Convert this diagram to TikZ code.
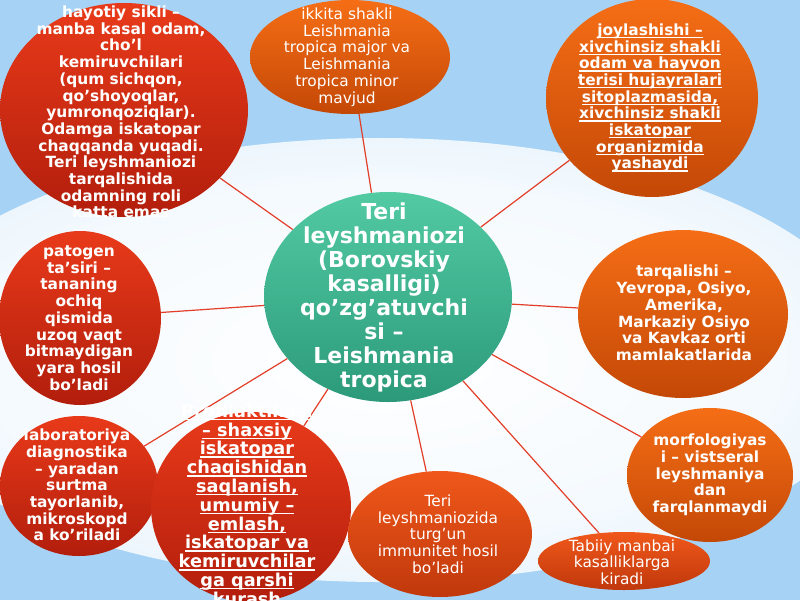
\documentclass[tikz,border=0pt]{standalone}
\usepackage{fontspec}
\setmainfont{DejaVu Sans}
\usetikzlibrary{shapes.geometric,shadings}
\definecolor{bgblue}{RGB}{166,211,245}
\colorlet{glowA}{white}
\colorlet{glowB}{white!88!bgblue}
\colorlet{glowC}{white!55!bgblue}
\definecolor{redtop}{RGB}{232,58,26}
\definecolor{redbot}{RGB}{178,30,12}
\definecolor{ortop}{RGB}{245,110,22}
\definecolor{orbot}{RGB}{196,72,6}
\definecolor{rotop}{RGB}{240,88,26}
\definecolor{robot}{RGB}{192,56,12}
\definecolor{tealtop}{RGB}{82,202,162}
\definecolor{tealbot}{RGB}{44,154,122}
\definecolor{conncol}{RGB}{226,62,40}
\pgfdeclareradialshading{glow}{\pgfpoint{0bp}{0bp}}{color(0bp)=(glowA); color(20bp)=(glowB); color(40bp)=(glowC); color(50bp)=(bgblue)}
\newcommand\ulline[1]{\setbox0=\hbox{#1}\rlap{\rule[-2.8pt]{\wd0}{1.3pt}}\box0}
\begin{document}
\begin{tikzpicture}[x=1pt,y=-1pt,
  blob/.style={ellipse, inner sep=0pt, draw=none},
  redblob/.style={blob, top color=redtop, bottom color=redbot},
  orblob/.style={blob, top color=ortop, bottom color=orbot},
  roblob/.style={blob, top color=rotop, bottom color=robot},
  tealblob/.style={blob, top color=tealtop, bottom color=tealbot},
  conn/.style={draw=conncol, line width=1.2pt},
  txt/.style={text=white, align=center, inner sep=0pt},
  tb/.style={txt, font=\fontsize{15.4}{16.7}\selectfont\bfseries},
  tn/.style={txt, font=\fontsize{15.4}{16.7}\selectfont},
]
\useasboundingbox (0,0) rectangle (800,600);
\fill[bgblue] (0,0) rectangle (800,600);
\shade[shading=glow] (380,360) ellipse [x radius=500, y radius=222];

% ellipses
\node[redblob, minimum width=248pt, minimum height=214pt] (tl) at (124,110) {};
\node[orblob, minimum width=200pt, minimum height=114pt] (tm) at (350,57) {};
\node[orblob, minimum width=212pt, minimum height=198pt] (tr) at (652,98) {};
\node[tealblob, minimum width=248pt, minimum height=210pt] (c) at (388,297) {};
\node[redblob, minimum width=162pt, minimum height=174pt] (ml) at (80,318) {};
\node[orblob, minimum width=210pt, minimum height=168pt] (mr) at (683,314) {};
\node[orblob, minimum width=166pt, minimum height=134pt] (rb) at (710,475) {};
\node[redblob, minimum width=158pt, minimum height=140pt] (lb) at (79,486) {};
\node[redblob, minimum width=200pt, minimum height=190pt] (pf) at (251,507) {};
\node[roblob, minimum width=184pt, minimum height=126pt] (bm) at (440,534) {};
\node[roblob, minimum width=172pt, minimum height=58pt] (br) at (624,561) {};

% connectors
\foreach \n in {tl,tm,tr,ml,mr,rb,lb,pf,bm,br} \draw[conn] (c) -- (\n);

% texts
\node[tb] (tlt) at (121,112) {hayotiy sikli –\\manba kasal odam,\\cho’l\\kemiruvchilari\\(qum sichqon,\\qo’shoyoqlar,\\yumronqoziqlar).\\Odamga iskatopar\\chaqqanda yuqadi.\\Teri leyshmaniozi\\tarqalishida\\odamning roli\\katta emas};
\node[tn] (tmt) at (347,57) {ikkita shakli\\Leishmania\\tropica major va\\Leishmania\\tropica minor\\mavjud};
\node[tb] (trt) at (650,98) {\ulline{joylashishi –}\\\ulline{xivchinsiz shakli}\\\ulline{odam va hayvon}\\\ulline{terisi hujayralari}\\\ulline{sitoplazmasida,}\\\ulline{xivchinsiz shakli}\\\ulline{iskatopar}\\\ulline{organizmida}\\\ulline{yashaydi}};
\node[txt, font=\fontsize{22}{24}\selectfont\bfseries] (ct) at (384,297) {Teri\\leyshmaniozi\\(Borovskiy\\kasalligi)\\qo’zg’atuvchi\\si –\\Leishmania\\tropica};
\node[tb] (mlt) at (79,318) {patogen\\ta’siri –\\tananing\\ochiq\\qismida\\uzoq vaqt\\bitmaydigan\\yara hosil\\bo’ladi};
\node[tb] (mrt) at (684,313) {tarqalishi –\\Yevropa, Osiyo,\\Amerika,\\Markaziy Osiyo\\va Kavkaz orti\\mamlakatlarida};
\node[tb] (rbt) at (710,475) {morfologiyas\\i – vistseral\\leyshmaniya\\dan\\farqlanmaydi};
\node[tb] (lbt) at (77,485) {laboratoriya\\diagnostika\\– yaradan\\surtma\\tayorlanib,\\mikroskopd\\a ko’riladi};
\node[txt, font=\fontsize{17.7}{18.8}\selectfont\bfseries] (pft) at (247,506) {\ulline{Profilaktikasi}\\\ulline{– shaxsiy}\\\ulline{iskatopar}\\\ulline{chaqishidan}\\\ulline{saqlanish,}\\\ulline{umumiy –}\\\ulline{emlash,}\\\ulline{iskatopar va}\\\ulline{kemiruvchilar}\\\ulline{ga qarshi}\\\ulline{kurash}};
\node[tn] (bmt) at (438,534) {Teri\\leyshmaniozida\\turg’un\\immunitet hosil\\bo’ladi};
\node[tn] (brt) at (622,562) {Tabiiy manbai\\kasalliklarga\\kiradi};
\end{tikzpicture}
\end{document}
